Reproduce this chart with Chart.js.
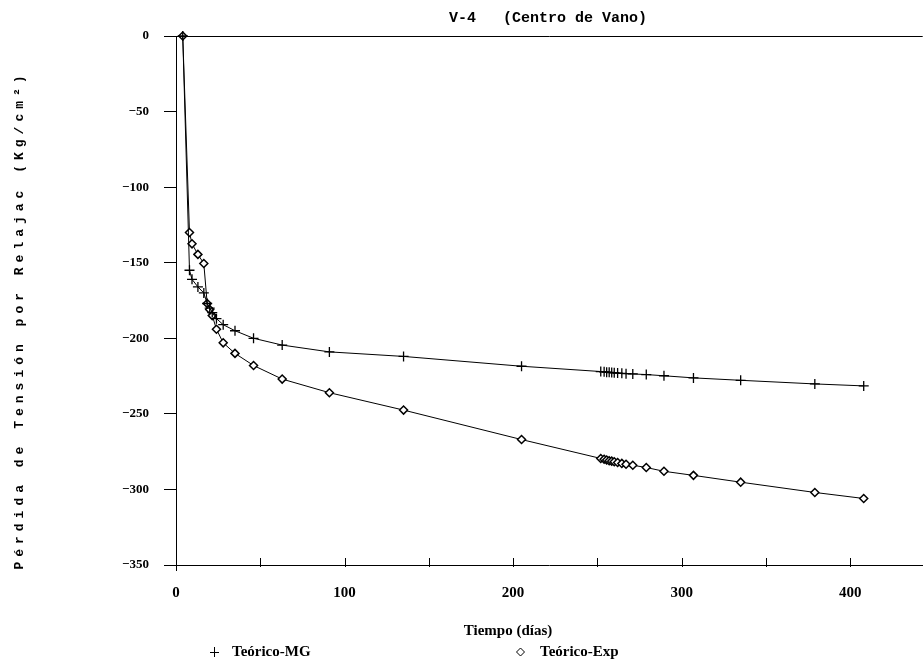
<!DOCTYPE html>
<html>
<head>
<meta charset="utf-8">
<script src="https://cdn.jsdelivr.net/npm/chart.js@4/dist/chart.umd.min.js"></script>
<style>
html,body{margin:0;padding:0;background:#fff;overflow:hidden;}
#wrap{width:923px;height:667px;position:relative;overflow:hidden;}
</style>
</head>
<body>
<div id="wrap"><canvas id="c" width="929" height="667"></canvas></div>
<script>
// ---- data ----
const days = [4, 8, 9.5, 13, 16.5, 18.5, 20, 21.5, 24, 28, 35, 46, 63, 91, 135, 205,
  252, 254, 255.5, 257, 258.5, 260, 262, 264.5, 267, 271, 279, 289.5, 307, 335, 379, 408];
const teoricoMG = [0, -155, -161, -166, -170, -177, -180, -183, -187, -191, -195, -200, -204.5, -209, -212, -218.5,
  -222, -222.2, -222.4, -222.5, -222.7, -222.8, -223, -223.2, -223.4, -223.6, -224, -224.8, -226.2, -227.8, -230.2, -231.5];
const teoricoExp = [0, -130, -137.5, -144.5, -150.5, -177, -181, -185, -194, -203, -210, -218, -227, -236, -247.5, -267,
  -279.5, -280, -280.5, -281, -281.3, -281.7, -282.2, -282.8, -283.3, -284, -285.5, -288, -290.7, -295.2, -302, -306];
const xTickLabels = [0, 100, 200, 300, 400];
const yTicks = [0, -50, -100, -150, -200, -250, -300, -350];
const seriesNames = ['Teórico-MG', 'Teórico-Exp'];
const titleText = 'V-4   (Centro de Vano)';
const xTitle = 'Tiempo (días)';
const yTitle = 'Pérdida de Tensión por Relajac (Kg/cm²)';

const serif = '"Liberation Serif", "DejaVu Serif", serif';
const mono = '"Liberation Mono", "DejaVu Sans Mono", monospace';

function pts(ys){ return days.map((d,i)=>({x:d, y:ys[i]})); }

const decor = {
  id: 'decor',
  afterDraw(chart){
    const ctx = chart.ctx, a = chart.chartArea;
    const xs = chart.scales.x;
    ctx.save();
    ctx.strokeStyle = '#000'; ctx.lineWidth = 1;
    // top frame line
    ctx.beginPath(); ctx.moveTo(a.left, a.top + 0.5); ctx.lineTo(a.right, a.top + 0.5); ctx.stroke();
    // x tick marks (inside)
    for (let v = 0; v <= 450; v += 50) {
      const px = Math.round(xs.getPixelForValue(v)) + 0.5;
      if (px > a.right) continue;
      ctx.beginPath(); ctx.moveTo(px, a.bottom - 7); ctx.lineTo(px, a.bottom + (v === 0 ? 6 : 2)); ctx.stroke();
    }
    ctx.fillStyle = '#000';
    // title
    ctx.font = 'bold 15px ' + mono;
    ctx.textAlign = 'center'; ctx.textBaseline = 'middle';
    ctx.fillText(titleText, 548, 18);
    // x title
    ctx.font = 'bold 15px ' + serif;
    ctx.fillText(xTitle, 508, 631);
    // legend
    ctx.textAlign = 'left';
    ctx.fillText(seriesNames[0], 232, 652);
    ctx.fillText(seriesNames[1], 540, 652);
    // legend markers
    ctx.beginPath();
    ctx.moveTo(214.5, 647); ctx.lineTo(214.5, 657);
    ctx.moveTo(210, 652.5); ctx.lineTo(219, 652.5);
    ctx.stroke();
    ctx.beginPath();
    ctx.moveTo(520.5, 648); ctx.lineTo(524.5, 652); ctx.lineTo(520.5, 656); ctx.lineTo(516.5, 652); ctx.closePath();
    ctx.stroke();
    // y title, rotated
    ctx.translate(20, 320);
    ctx.rotate(-Math.PI/2);
    ctx.font = 'bold 13px ' + mono;
    try { ctx.letterSpacing = '5px'; } catch(e) {}
    ctx.textAlign = 'center'; ctx.textBaseline = 'middle';
    ctx.fillText(yTitle, 0, 0);
    ctx.restore();
  }
};

new Chart(document.getElementById('c'), {
  type: 'scatter',
  data: {
    datasets: [
      {
        label: seriesNames[0],
        data: pts(teoricoMG),
        showLine: true,
        borderColor: '#000',
        borderWidth: 1,
        pointStyle: 'cross',
        pointRadius: 5,
        pointBorderWidth: 1.3,
        pointBorderColor: '#000',
        pointBackgroundColor: '#000',
        tension: 0,
        clip: false
      },
      {
        label: seriesNames[1],
        data: pts(teoricoExp),
        showLine: true,
        borderColor: '#000',
        borderWidth: 1,
        pointStyle: 'rectRot',
        pointRadius: 4,
        pointBorderWidth: 1.5,
        pointBorderColor: '#000',
        pointBackgroundColor: '#fff',
        tension: 0,
        clip: false
      }
    ]
  },
  options: {
    responsive: false,
    animation: false,
    events: [],
    layout: { padding: { top: 36, right: 0, bottom: 0, left: 0 } },
    plugins: { legend: { display: false }, title: { display: false }, tooltip: { enabled: false } },
    scales: {
      x: {
        type: 'linear',
        min: 0,
        max: 443,
        afterFit(s){ s.height = 102; s.paddingRight = 0; s.paddingLeft = 0; },
        afterBuildTicks(s){ s.ticks = s.ticks.filter(t => t.value % 50 === 0); },
        grid: { display: true, drawOnChartArea: false, drawTicks: false, color: '#000' },
        border: { display: true, color: '#000', width: 1 },
        ticks: {
          stepSize: 50,
          padding: 19,
          color: '#000',
          maxRotation: 0,
          autoSkip: false,
          font: { family: serif, size: 15, weight: 'bold' },
          callback: v => xTickLabels.includes(v) ? String(v) : ''
        }
      },
      y: {
        type: 'linear',
        min: -350,
        max: 0,
        afterFit(s){ s.width = 176; s.paddingTop = 0; s.paddingBottom = 0; },
        grid: { display: true, drawOnChartArea: false, drawTicks: true, tickLength: 12, color: '#000' },
        border: { display: true, color: '#000', width: 1 },
        ticks: {
          stepSize: 50,
          padding: 15,
          color: '#000',
          autoSkip: false,
          font: { family: serif, size: 13, weight: 'bold' },
          callback: v => yTicks.includes(v) ? (v < 0 ? '\u2212' + Math.abs(v) : String(v)) : ''
        }
      }
    }
  },
  plugins: [decor]
});
</script>
</body>
</html>
